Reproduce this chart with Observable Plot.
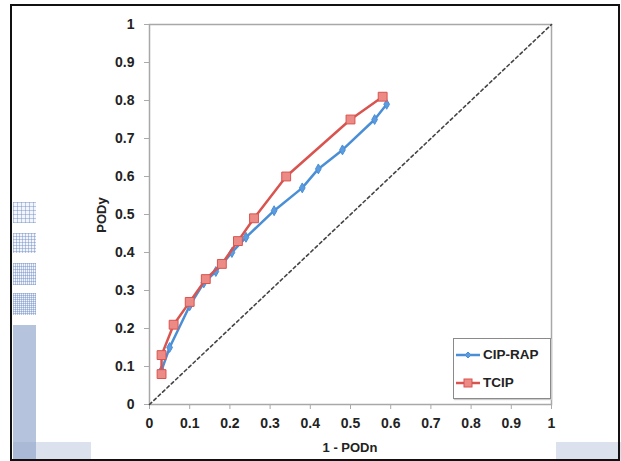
<!DOCTYPE html>
<html>
<head>
<meta charset="utf-8">
<script src="https://cdn.jsdelivr.net/npm/d3@7"></script>
<script src="https://cdn.jsdelivr.net/npm/@observablehq/plot@0.6"></script>
<style>
  html, body { margin: 0; padding: 0; background: #fff; }
  #wrap { position: relative; width: 621px; height: 461px; overflow: hidden; font-family: "Liberation Sans", Arial, sans-serif; }
  .deco { position: absolute; }
  .pat { background-color: #f3f5fa;
         background-image: linear-gradient(90deg, rgba(110,140,200,0.45) 1px, transparent 1px), linear-gradient(rgba(110,140,200,0.45) 1px, transparent 1px);
         background-size: 3px 3px; }
  #frame { position: absolute; left: 10px; top: 4px; width: 606px; height: 453px; border: 2.5px solid #111; pointer-events: none; }
  #legend { position: absolute; left: 453px; top: 338px; width: 96px; height: 59px; border: 1.5px solid #8a8a8a; background: #fff; box-shadow: 1px 1px 1px #ccc; }
  .li { position: absolute; left: 1px; display: flex; align-items: center; font-size: 13.5px; font-weight: bold; color: #222; }
  .axlab { position: absolute; font-size: 13px; font-weight: bold; color: #222; white-space: nowrap; }
</style>
</head>
<body>
<div id="wrap">
  <div class="deco pat" style="left:13px;top:202px;width:23px;height:21px;background-size:4px 4px;"></div>
  <div class="deco pat" style="left:13px;top:233px;width:23px;height:20px;"></div>
  <div class="deco pat" style="left:13px;top:263px;width:23px;height:22px;background-size:2px 3px;"></div>
  <div class="deco pat" style="left:13px;top:293px;width:23px;height:22px;background-size:2px 2px;"></div>
  <div class="deco" style="left:13px;top:325px;width:23px;height:136px;background:#b5c3dc;"></div>
  <div class="deco" style="left:13px;top:442px;width:78px;height:19px;background:#dbe2ee;"></div>
  <div class="deco" style="left:13px;top:442px;width:23px;height:19px;background:#a9b9d6;"></div>
  <div class="deco" style="left:556px;top:442px;width:65px;height:19px;background:#dbe2ee;"></div>
  <div id="chart" style="position:absolute;left:0;top:0;"></div>
  <div id="legend">
    <div class="li" style="top:8px;">
      <svg width="26" height="12"><line x1="1" y1="6" x2="25" y2="6" stroke="#4a8fd6" stroke-width="2.5"/><path d="M13,3 L16,6 L13,9 L10,6 Z" fill="#5b9be0" stroke="#4a8fd6"/></svg>
      <span style="margin-left:2px">CIP-RAP</span>
    </div>
    <div class="li" style="top:36px;">
      <svg width="26" height="12"><line x1="1" y1="6" x2="25" y2="6" stroke="#d9534f" stroke-width="2.5"/><rect x="9" y="2" width="8" height="8" fill="#ec8a86" stroke="#d9534f"/></svg>
      <span style="margin-left:2px">TCIP</span>
    </div>
  </div>
  <div id="xlab" class="axlab" style="left:350px;top:447px;transform:translate(-50%,-50%);"></div>
  <div id="ylab" class="axlab" style="left:101px;top:215px;transform:translate(-50%,-50%) rotate(-90deg);"></div>
  <div id="frame"></div>
</div>
<script>
// Data
const cipX = [0.03, 0.05, 0.10, 0.135, 0.165, 0.205, 0.24, 0.31, 0.38, 0.42, 0.48, 0.56, 0.59];
const cipY = [0.09, 0.15, 0.26, 0.32, 0.35, 0.40, 0.44, 0.51, 0.57, 0.62, 0.67, 0.75, 0.79];
const tcipX = [0.03, 0.03, 0.06, 0.10, 0.14, 0.18, 0.22, 0.26, 0.34, 0.50, 0.58];
const tcipY = [0.08, 0.13, 0.21, 0.27, 0.33, 0.37, 0.43, 0.49, 0.60, 0.75, 0.81];
const tickValues = [0, 0.1, 0.2, 0.3, 0.4, 0.5, 0.6, 0.7, 0.8, 0.9, 1];
const diagonal = [0, 1];
const xLabel = "1 - PODn";
const yLabel = "PODy";

document.getElementById("xlab").textContent = xLabel;
document.getElementById("ylab").textContent = yLabel;

const cip = cipX.map((x, i) => ({x, y: cipY[i]}));
const tcip = tcipX.map((x, i) => ({x, y: tcipY[i]}));
const diag = diagonal.map(v => ({x: v, y: v}));
const fmt = d => String(+d.toFixed(1));

const blue = "#4a8fd6", red = "#d9534f";

const chart = Plot.plot({
  width: 621,
  height: 461,
  marginLeft: 149,
  marginRight: 70,
  marginTop: 24,
  marginBottom: 57,
  style: {fontFamily: "Liberation Sans, Arial, sans-serif", fontSize: "14px", fontWeight: "bold", color: "#222", background: "transparent"},
  x: {domain: [0, 1]},
  y: {domain: [0, 1]},
  marks: [
    Plot.frame({stroke: "#a8a8a8", strokeWidth: 1.5}),
    Plot.axisX({ticks: tickValues, tickFormat: fmt, tickSize: 5, tickPadding: 9, stroke: "#aaa", label: null}),
    Plot.axisY({ticks: tickValues, tickFormat: fmt, tickSize: 5, tickPadding: 10, stroke: "#aaa", label: null}),
    Plot.line(diag, {x: "x", y: "y", stroke: "#444", strokeWidth: 1.6, strokeDasharray: "3,3"}),
    Plot.line(cip, {x: "x", y: "y", stroke: blue, strokeWidth: 2.5}),
    Plot.dot(cip, {x: "x", y: "y", symbol: "diamond", r: 3, fill: "#5b9be0", stroke: blue, strokeWidth: 1}),
    Plot.line(tcip, {x: "x", y: "y", stroke: red, strokeWidth: 2.5}),
    Plot.dot(tcip, {x: "x", y: "y", symbol: "square", r: 5, fill: "#ec8a86", stroke: red, strokeWidth: 1})
  ]
});
document.getElementById("chart").appendChild(chart);
</script>
</body>
</html>
